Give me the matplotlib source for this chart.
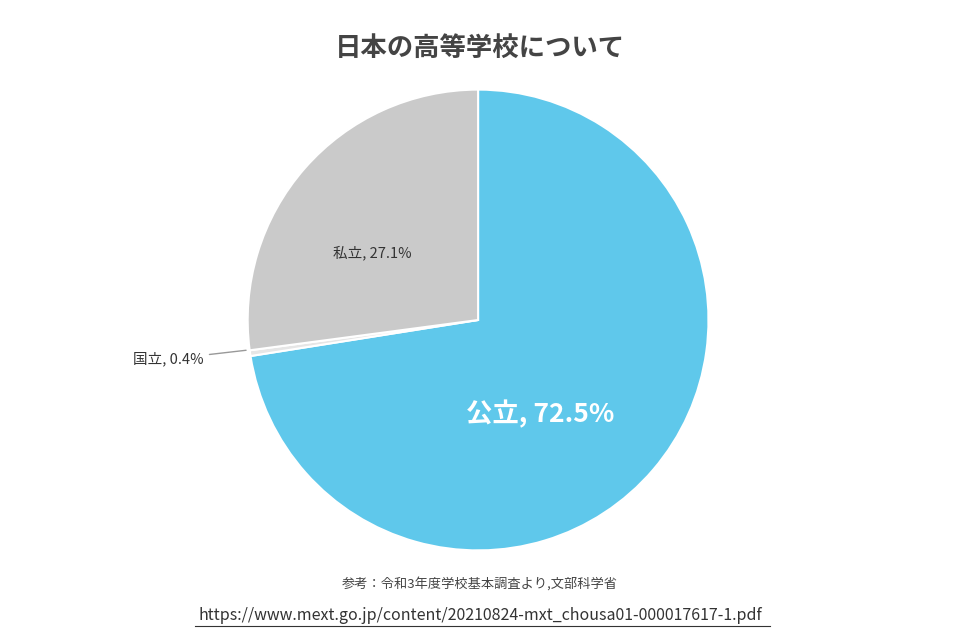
import matplotlib
matplotlib.use("Agg")
import matplotlib.pyplot as plt

plt.rcParams['font.family'] = ['Noto Sans CJK JP', 'DejaVu Sans']

labels = ["公立", "国立", "私立"]
values = [72.5, 0.4, 27.1]
colors = ["#5fc8eb", "#e6e6e6", "#cacaca"]

fig = plt.figure(figsize=(9.6, 6.4), dpi=100)
ax = fig.add_axes([0.198, 0.05, 0.6, 0.9])
wedges, _ = ax.pie(values, colors=colors, startangle=90, counterclock=False,
                   wedgeprops=dict(edgecolor="white", linewidth=1.5))
ax.set_aspect("equal")

ax.text(0.27, -0.41, f"{labels[0]}, {values[0]}%", color="white", fontsize=19,
        fontweight="bold", ha="center", va="center")
ax.text(-0.46, 0.29, f"{labels[2]}, {values[2]}%", color="#333333", fontsize=10.5,
        ha="center", va="center")
ax.annotate(f"{labels[1]}, {values[1]}%", xy=(-0.995, -0.13), xytext=(-1.19, -0.17),
            fontsize=10.5, color="#333333", ha="right", va="center",
            arrowprops=dict(arrowstyle="-", color="#999999", lw=1,
                            connectionstyle="arc3,rad=0"))

fig.text(0.5, 0.925, "日本の高等学校について", ha="center", va="center",
         fontsize=19, color="#444444", fontweight="bold")
fig.text(0.5, 0.088, "参考：令和3年度学校基本調査より,文部科学省", ha="center",
         va="center", fontsize=9.5, color="#444444")
fig.text(0.5, 0.038, "https://www.mext.go.jp/content/20210824-mxt_chousa01-000017617-1.pdf",
         ha="center", va="center", fontsize=11.5, color="#333333")
fig.add_artist(plt.Line2D([0.203, 0.802], [0.022, 0.022], color="#333333", lw=0.8))

fig.savefig("out.png", dpi=100)
